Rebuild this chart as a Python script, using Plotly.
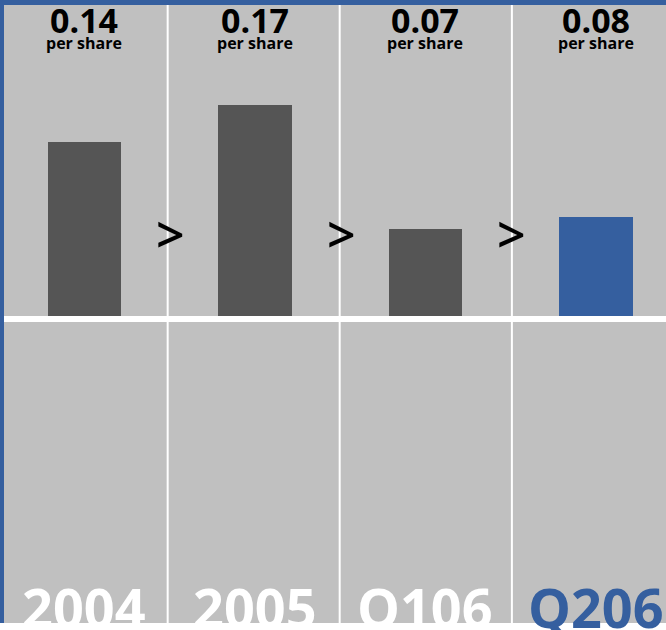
import plotly.graph_objects as go

# Earnings per share by period
periods = ["2004", "2005", "Q106", "Q206"]
eps = [0.14, 0.17, 0.07, 0.08]
unit_label = "per share"
arrow = ">"

GREY_BG = "#c0c0c0"
BAR_GREY = "#555555"
BLUE = "#355f9f"
FONT = "Open Sans"

bar_colors = [BAR_GREY, BAR_GREY, BAR_GREY, BLUE]
period_colors = ["white", "white", "white", BLUE]

W, H = 666, 630
ML, MT, MB = 4, 5, 7
plot_h = H - MT - MB

fig = go.Figure(
    go.Bar(
        x=periods,
        y=eps,
        width=0.43,
        marker=dict(color=bar_colors, line=dict(width=0)),
        hoverinfo="skip",
    )
)

shapes = []
# strip below the panel
shapes.append(dict(type="rect", xref="paper", yref="paper",
                   x0=-0.02, x1=1.02, y0=-(MB + 2) / plot_h, y1=0,
                   fillcolor="white", line=dict(width=0), layer="above"))
# white separators between periods
for xs in [0.488, 1.497, 2.507]:
    shapes.append(dict(type="line", xref="x", yref="paper",
                       x0=xs, x1=xs, y0=0, y1=1,
                       line=dict(color="white", width=2), layer="below"))
# white baseline band
shapes.append(dict(type="rect", xref="paper", yref="y",
                   x0=0, x1=1, y0=-0.0049, y1=0,
                   fillcolor="white", line=dict(width=0), layer="below"))

annotations = []
for i, (p, v) in enumerate(zip(periods, eps)):
    annotations.append(dict(
        x=i, y=1, xref="x", yref="paper", yanchor="top",
        text=f"{v:.2f}", showarrow=False, yshift=10,
        font=dict(family=FONT, size=34, color="black", weight=700)))
    annotations.append(dict(
        x=i, y=1, xref="x", yref="paper", yanchor="top",
        text=unit_label, showarrow=False, yshift=-25,
        font=dict(family=FONT, size=16, color="black", weight=700)))
    annotations.append(dict(
        x=i, y=0, xref="x", yref="paper", yanchor="bottom",
        text=p, showarrow=False, yshift=-23,
        font=dict(family=FONT, size=54, color=period_colors[i], weight=700)))
for i in range(len(periods) - 1):
    annotations.append(dict(
        x=i + 0.505, y=0.066, xref="x", yref="y",
        text=arrow, showarrow=False,
        font=dict(family=FONT, size=50, color="black", weight=600)))

fig.update_layout(
    width=W, height=H,
    margin=dict(l=ML, r=0, t=MT, b=MB, pad=0),
    paper_bgcolor=BLUE,
    plot_bgcolor=GREY_BG,
    showlegend=False,
    bargap=0,
    shapes=shapes,
    annotations=annotations,
    xaxis=dict(type="category", range=[-0.472, 3.411], showticklabels=False,
               showgrid=False, zeroline=False, showline=False, ticks="",
               fixedrange=True),
    yaxis=dict(range=[-(623 - 316) / 1240, 311 / 1240], showticklabels=False,
               showgrid=False, zeroline=False, showline=False, ticks="",
               fixedrange=True),
)

fig.write_html("out.html", config=dict(displayModeBar=False))
